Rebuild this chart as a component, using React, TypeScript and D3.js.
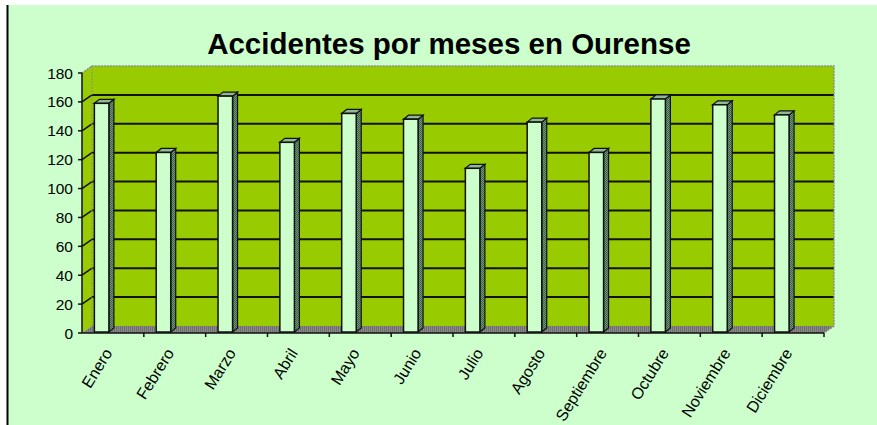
import React from 'react'
import * as d3 from 'd3'

const months = ['Enero', 'Febrero', 'Marzo', 'Abril', 'Mayo', 'Junio', 'Julio', 'Agosto', 'Septiembre', 'Octubre', 'Noviembre', 'Diciembre']
const accidents = [159, 125, 164, 132, 152, 148, 114, 146, 125, 162, 158, 151]
const yTicks = [0, 20, 40, 60, 80, 100, 120, 140, 160, 180]

const App = () => {
    const ref = React.useRef<SVGSVGElement>(null)

    React.useEffect(() => {
        const svg = d3.select(ref.current)
        svg.selectAll('*').remove()

        const width = 877
        const height = 425
        const font = '"Liberation Sans", Arial, sans-serif'
        // depth offset of the 3D walls and of the bars
        const wdx = 10, wdy = -7
        const bdx = 5, bdy = -4

        const xScale = d3.scaleBand().domain(months).range([82, 824])
        const yScale = d3.scaleLinear().domain([0, 180]).range([333, 73])
        const y0 = yScale(0)
        const bw = xScale.bandwidth()

        const defs = svg.append('defs')
        const floorPat = defs.append('pattern').attr('id', 'floorPat').attr('width', 2).attr('height', 2).attr('patternUnits', 'userSpaceOnUse')
        floorPat.append('rect').attr('width', 2).attr('height', 2).attr('fill', '#8a8a8a')
        floorPat.append('rect').attr('width', 1).attr('height', 2).attr('fill', '#6e6e6e')
        const sidePat = defs.append('pattern').attr('id', 'sidePat').attr('width', 2).attr('height', 2).attr('patternUnits', 'userSpaceOnUse')
        sidePat.append('rect').attr('width', 2).attr('height', 2).attr('fill', '#6f9a7c')
        sidePat.append('rect').attr('width', 1).attr('height', 1).attr('fill', '#3b5e47')
        sidePat.append('rect').attr('x', 1).attr('y', 1).attr('width', 1).attr('height', 1).attr('fill', '#3b5e47')

        // page background
        svg.append('rect').attr('width', width).attr('height', height).attr('fill', '#ffffff')
        svg.append('rect').attr('x', 7).attr('y', 5).attr('width', width).attr('height', height).attr('fill', '#ccffcc')
        svg.append('line').attr('x1', 7.5).attr('y1', 5).attr('x2', 7.5).attr('y2', height)
            .attr('stroke', 'black').attr('stroke-width', 2)

        // title
        svg.append('text')
            .attr('x', 449).attr('y', 54)
            .attr('text-anchor', 'middle')
            .style('font-family', font).style('font-weight', 'bold').style('font-size', '29.5px')
            .text('Accidentes por meses en Ourense')

        const xl = 82, xr = 824, yt = yScale(180)

        // side wall + back wall
        svg.append('polygon')
            .attr('points', [[xl, yt], [xl + wdx, yt + wdy], [xl + wdx, y0 + wdy], [xl, y0]].join(' '))
            .attr('fill', '#99cc00')
        svg.append('rect')
            .attr('x', xl + wdx).attr('y', yt + wdy)
            .attr('width', xr - xl).attr('height', y0 - yt)
            .attr('fill', '#99cc00')

        // floor
        svg.append('polygon')
            .attr('points', [[xl, y0], [xl + wdx, y0 + wdy], [xr + wdx, y0 + wdy], [xr, y0]].join(' '))
            .attr('fill', 'url(#floorPat)')

        // gridlines
        const grid = yTicks.filter((d) => d > 0 && d < 180)
        svg.selectAll('.grid')
            .data(grid)
            .enter()
            .append('line')
            .attr('x1', xl + wdx).attr('x2', xr + wdx)
            .attr('y1', (d) => yScale(d) + wdy).attr('y2', (d) => yScale(d) + wdy)
            .attr('stroke', '#111').attr('stroke-width', 2)
        svg.selectAll('.gridSide')
            .data(grid)
            .enter()
            .append('line')
            .attr('x1', xl).attr('x2', xl + wdx)
            .attr('y1', (d) => yScale(d)).attr('y2', (d) => yScale(d) + wdy)
            .attr('stroke', '#111').attr('stroke-width', 1.5)

        // wall outline (dashed grey)
        svg.append('path')
            .attr('d', `M${xl},${yt}L${xl + wdx},${yt + wdy}L${xr + wdx},${yt + wdy}L${xr + wdx},${y0 + wdy}L${xr},${y0}`)
            .attr('fill', 'none').attr('stroke', '#8c8c8c').attr('stroke-width', 1.5).attr('stroke-dasharray', '2,1')
        svg.append('line')
            .attr('x1', xl + wdx).attr('x2', xl + wdx).attr('y1', yt + wdy).attr('y2', y0 + wdy)
            .attr('stroke', '#8c8c8c').attr('stroke-width', 1).attr('stroke-dasharray', '2,1')

        // bars
        const bars = svg.selectAll('.bar')
            .data(months.map((m, i) => ({ m, v: accidents[i] })))
            .enter()
            .append('g')
        const bx = (d) => (xScale(d.m) as number) + bw * 0.2
        const bW = bw * 0.235
        const yb = y0 - 1
        bars.append('polygon')
            .attr('points', (d) => {
                const x = bx(d) + bW, y = yScale(d.v)
                return [[x, y], [x + bdx, y + bdy], [x + bdx, yb + bdy], [x, yb]].join(' ')
            })
            .attr('fill', 'url(#sidePat)').attr('stroke', '#111').attr('stroke-width', 1.2)
        bars.append('polygon')
            .attr('points', (d) => {
                const x = bx(d), y = yScale(d.v)
                return [[x, y], [x + bdx, y + bdy], [x + bW + bdx, y + bdy], [x + bW, y]].join(' ')
            })
            .attr('fill', '#8fb894').attr('stroke', '#111').attr('stroke-width', 1.2)
        bars.append('rect')
            .attr('x', bx).attr('y', (d) => yScale(d.v))
            .attr('width', bW).attr('height', (d) => yb - yScale(d.v))
            .attr('fill', '#ccffcc').attr('stroke', '#111').attr('stroke-width', 1.5)

        // y axis
        svg.append('line').attr('x1', xl).attr('x2', xl).attr('y1', yt).attr('y2', y0)
            .attr('stroke', '#111').attr('stroke-width', 1.5)
        const yLabels = svg.selectAll('.y-label').data(yTicks).enter().append('g')
        yLabels.append('line')
            .attr('x1', xl - 4).attr('x2', xl)
            .attr('y1', (d) => yScale(d)).attr('y2', (d) => yScale(d))
            .attr('stroke', '#111').attr('stroke-width', 1.5)
        yLabels.append('text')
            .attr('x', xl - 9).attr('y', (d) => yScale(d))
            .attr('dy', '0.36em')
            .attr('text-anchor', 'end')
            .style('font-family', font).style('font-size', '15.5px')
            .text((d) => d)

        // x axis
        svg.append('line').attr('x1', xl).attr('x2', xr).attr('y1', y0).attr('y2', y0)
            .attr('stroke', '#111').attr('stroke-width', 1.5)
        svg.selectAll('.x-tick')
            .data(months)
            .enter()
            .append('line')
            .attr('x1', (d) => (xScale(d) as number) + bw).attr('x2', (d) => (xScale(d) as number) + bw)
            .attr('y1', y0).attr('y2', y0 + 4)
            .attr('stroke', '#111').attr('stroke-width', 1.5)
        svg.selectAll('.x-label')
            .data(months)
            .enter()
            .append('text')
            .attr('text-anchor', 'end')
            .attr('transform', (d) => `translate(${(xScale(d) as number) + bw / 2},353) rotate(-58)`)
            .style('font-family', font).style('font-size', '16px')
            .text((d) => d)
    }, [])

    return (
        <svg ref={ref} width={877} height={425} style={{ position: 'absolute', left: 0, top: 0 }}></svg>
    )
}

export default App
